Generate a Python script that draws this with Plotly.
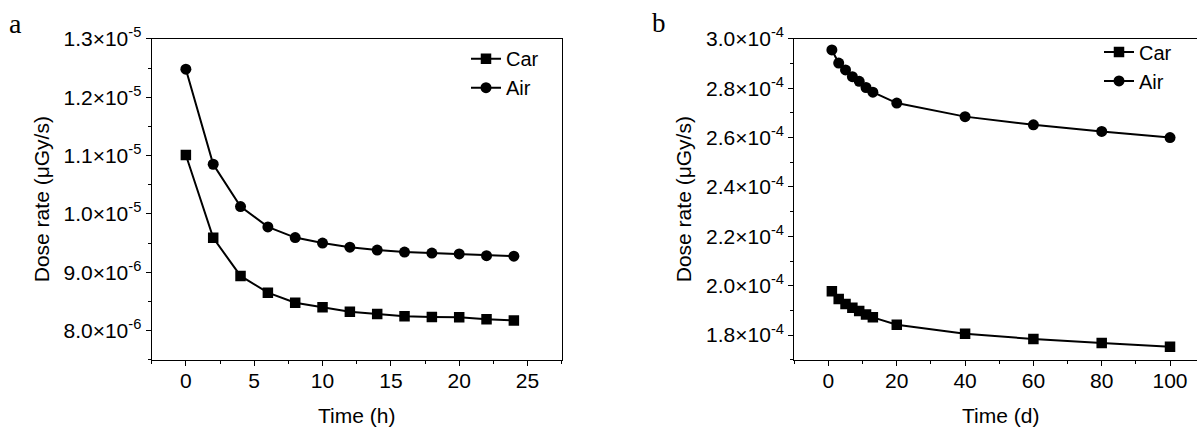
import plotly.graph_objects as go

# ---- data: panel a (hours) ----
hours = [0, 2, 4, 6, 8, 10, 12, 14, 16, 18, 20, 22, 24]
car_h = [1.101e-5, 9.59e-6, 8.937e-6, 8.65e-6, 8.479e-6, 8.401e-6, 8.323e-6,
         8.285e-6, 8.247e-6, 8.235e-6, 8.231e-6, 8.197e-6, 8.174e-6]
air_h = [1.248e-5, 1.0851e-5, 1.0126e-5, 9.778e-6, 9.595e-6, 9.501e-6, 9.430e-6,
         9.380e-6, 9.347e-6, 9.330e-6, 9.314e-6, 9.285e-6, 9.275e-6]

# ---- data: panel b (days) ----
days = [1, 3, 5, 7, 9, 11, 13, 20, 40, 60, 80, 100]
car_d = [1.978e-4, 1.946e-4, 1.926e-4, 1.911e-4, 1.898e-4, 1.884e-4, 1.872e-4,
         1.842e-4, 1.806e-4, 1.784e-4, 1.768e-4, 1.753e-4]
air_d = [2.955e-4, 2.902e-4, 2.874e-4, 2.847e-4, 2.828e-4, 2.803e-4, 2.784e-4,
         2.740e-4, 2.685e-4, 2.652e-4, 2.625e-4, 2.600e-4]

# ---- tick labels ----
yticks_a = [8.0e-6, 9.0e-6, 1.0e-5, 1.1e-5, 1.2e-5, 1.3e-5]
ylabels_a = ["8.0×10<sup>-6</sup>", "9.0×10<sup>-6</sup>", "1.0×10<sup>-5</sup>",
             "1.1×10<sup>-5</sup>", "1.2×10<sup>-5</sup>", "1.3×10<sup>-5</sup>"]
yticks_b = [1.8e-4, 2.0e-4, 2.2e-4, 2.4e-4, 2.6e-4, 2.8e-4, 3.0e-4]
ylabels_b = ["1.8×10<sup>-4</sup>", "2.0×10<sup>-4</sup>", "2.2×10<sup>-4</sup>",
             "2.4×10<sup>-4</sup>", "2.6×10<sup>-4</sup>", "2.8×10<sup>-4</sup>",
             "3.0×10<sup>-4</sup>"]

W, H = 1197, 428
FONT = "Liberation Sans"
FS = 21
LEG_FS = 20


def px_x(p):
    return p / W


def px_y(p):
    return 1 - p / H


fig = go.Figure()

line_style = dict(color="black", width=2)
square = dict(symbol="square", size=10.5, color="black")
circle = dict(symbol="circle", size=11, color="black")

fig.add_trace(go.Scatter(x=hours, y=car_h, name="Car", mode="lines+markers",
                         line=line_style, marker=square,
                         xaxis="x", yaxis="y", legend="legend"))
fig.add_trace(go.Scatter(x=hours, y=air_h, name="Air", mode="lines+markers",
                         line=line_style, marker=circle,
                         xaxis="x", yaxis="y", legend="legend"))
fig.add_trace(go.Scatter(x=days, y=car_d, name="Car", mode="lines+markers",
                         line=line_style, marker=square,
                         xaxis="x2", yaxis="y2", legend="legend2"))
fig.add_trace(go.Scatter(x=days, y=air_d, name="Air", mode="lines+markers",
                         line=line_style, marker=circle,
                         xaxis="x2", yaxis="y2", legend="legend2"))

axis_common = dict(
    showgrid=False, zeroline=False, showline=True, linecolor="black", linewidth=1.3,
    ticks="outside", ticklen=5, tickwidth=1.2, tickcolor="black",
    tickfont=dict(family=FONT, size=FS, color="black"),
)


def minor(step):
    return dict(ticks="outside", ticklen=3, tickwidth=1, tickcolor="black",
                tickmode="linear", tick0=0, dtick=step, showgrid=False)


ydom = [px_y(357.5), px_y(25.7)]

fig.update_layout(
    width=W, height=H,
    margin=dict(l=0, r=0, t=0, b=0),
    paper_bgcolor="white", plot_bgcolor="white",
    font=dict(family=FONT, size=FS, color="black"),
    xaxis=dict(domain=[px_x(151.7), px_x(561.7)], range=[-2.5, 27.5],
               tickmode="linear", tick0=0, dtick=5, mirror=True, anchor="y",
               ticklabelstandoff=-3, minor=minor(2.5), **axis_common),
    yaxis=dict(domain=ydom, range=[7.5e-6, 1.3e-5], tickmode="array",
               tickvals=yticks_a, ticktext=ylabels_a, mirror=True, anchor="x",
               minor=minor(5e-7), **axis_common),
    xaxis2=dict(domain=[px_x(794.3), 1.0], range=[-10, 107.9],
                tickmode="linear", tick0=0, dtick=20, mirror=True, anchor="y2",
                ticklabelstandoff=-3, minor=minor(10), **axis_common),
    yaxis2=dict(domain=ydom, range=[1.7e-4, 3.0e-4], tickmode="array",
                tickvals=yticks_b, ticktext=ylabels_b, mirror=False, anchor="x2",
                minor=minor(1e-5), **axis_common),
    legend=dict(x=px_x(466), y=px_y(26), xanchor="left", yanchor="top",
                bgcolor="rgba(0,0,0,0)", font=dict(family=FONT, size=LEG_FS),
                tracegroupgap=0),
    legend2=dict(x=px_x(1099), y=px_y(19), xanchor="left", yanchor="top",
                 bgcolor="rgba(0,0,0,0)", font=dict(family=FONT, size=LEG_FS),
                 tracegroupgap=0),
    showlegend=True,
)

annotations = [
    dict(text="Time (h)", x=px_x(356.7), y=px_y(415.5), xanchor="center", yanchor="middle"),
    dict(text="Time (d)", x=px_x(1000), y=px_y(415.5), xanchor="center", yanchor="middle"),
    dict(text="Dose rate (μGy/s)", x=px_x(41), y=px_y(191.5), textangle=-90,
         xanchor="center", yanchor="middle"),
    dict(text="Dose rate (μGy/s)", x=px_x(683), y=px_y(191.5), textangle=-90,
         xanchor="center", yanchor="middle"),
]
for a in annotations:
    a.update(xref="paper", yref="paper", showarrow=False,
             font=dict(family=FONT, size=FS, color="black"))

annotations += [
    dict(text="a", x=px_x(7), y=px_y(10), xref="paper", yref="paper", showarrow=False,
         xanchor="left", yanchor="middle",
         font=dict(family="Liberation Serif", size=28, color="black")),
    dict(text="b", x=px_x(650), y=px_y(9), xref="paper", yref="paper", showarrow=False,
         xanchor="left", yanchor="middle",
         font=dict(family="Liberation Serif", size=27, color="black")),
]
fig.update_layout(annotations=annotations)

fig.write_html("out.html")
